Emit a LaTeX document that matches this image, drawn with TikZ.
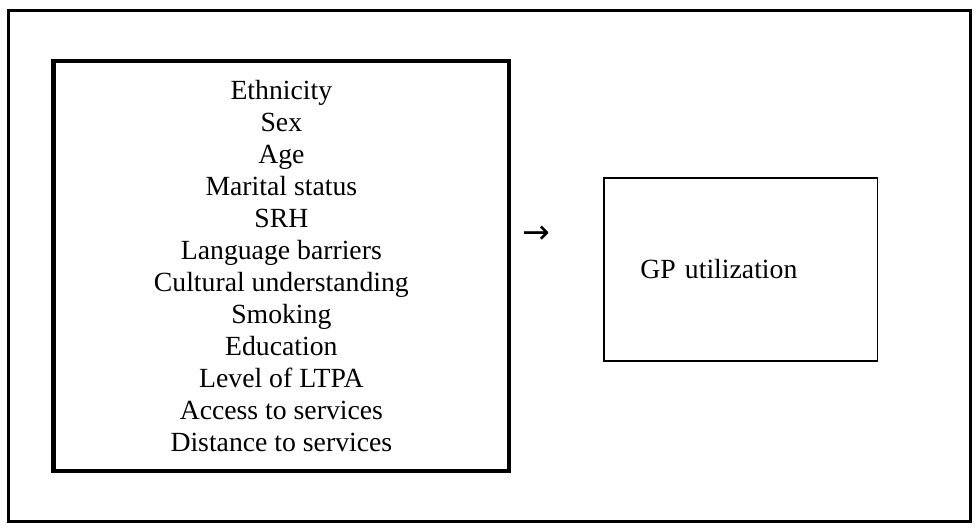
\documentclass[tikz,border=0pt]{standalone}
\usepackage{fontspec}
\setmainfont{Liberation Serif}
\newfontfamily\arrowfont{DejaVu Sans}
\usetikzlibrary{positioning}
\tikzset{
    textsize/.style={font=\fontsize{14.2}{16.4}\selectfont},
    factorbox/.style={draw, line width=2.5pt, outer sep=0pt, inner sep=0pt,
        minimum width=233.25pt, minimum height=210pt, align=center, textsize},
    outcomebox/.style={draw, line width=1pt, outer sep=0pt, inner xsep=18.5pt, inner ysep=0pt,
        minimum width=140pt, minimum height=94pt, text width=103pt, align=left, textsize},
}

\begin{document}
\begin{tikzpicture}[x=0.5pt, y=-0.5pt]
    \useasboundingbox (0,0) rectangle (1003,545);
    % outer frame
    \draw[line width=1.35pt] (8.7,10.7) rectangle (994.3,534.3);

    \node[factorbox] (factors) at (288.25,272.5) {Ethnicity\\Sex\\Age\\Marital status\\SRH\\Language barriers\\Cultural understanding\\Smoking\\Education\\Level of LTPA\\Access to services\\Distance to services};
    \node[outcomebox, right=48.75pt of factors, yshift=-1.75pt] (gp) {GP utilization};
    \node[font=\arrowfont\fontsize{17}{17}\selectfont, inner sep=0pt] (arrow) at (550,240) {→};
\end{tikzpicture}
\end{document}
